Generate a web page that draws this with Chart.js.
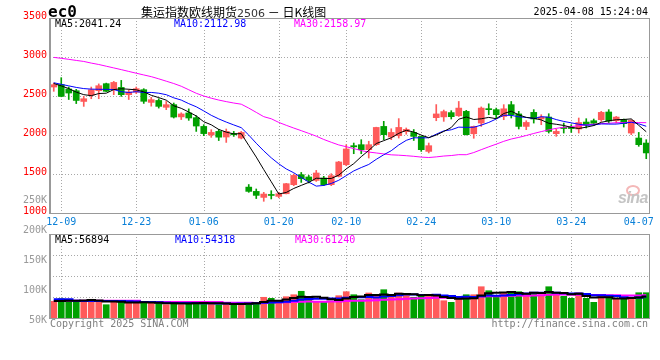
<!DOCTYPE html>
<html><head><meta charset="utf-8">
<script src="https://cdn.jsdelivr.net/npm/chart.js@4.4.1/dist/chart.umd.min.js"></script>
<style>
html,body{margin:0;padding:0;background:#fff;}
#wrap{position:relative;width:660px;height:360px;overflow:hidden;background:#fff;font-family:'DejaVu Sans Mono',monospace;}
canvas{position:absolute;left:0;}
#cPrice{top:0;}
#cVol{top:190px;}
.t{position:absolute;white-space:pre;font-family:'DejaVu Sans Mono',monospace;font-size:10px;}
.lg{line-height:9px;height:9px;background:#fff;padding:0 1px;}
</style></head><body>
<div id="wrap">
<canvas id="cPrice" width="660" height="232"></canvas>
<canvas id="cVol" width="660" height="170"></canvas>
<div class="t" style="left:48px;top:4px;font-size:16px;line-height:16px;font-weight:bold;color:#000;">ec0</div>
<div class="t" style="left:141px;top:6px;font-size:12px;line-height:12px;font-family:'Noto Sans CJK SC',sans-serif;color:#000;">集运指数欧线期货<span style="font-family:'DejaVu Sans',sans-serif;font-size:11px;color:#333;">2506</span> － 日K线图</div>
<div class="t" style="right:12px;top:7px;line-height:10px;color:#000;">2025-04-08 15:24:04</div>
<div class="t lg" id="pl5" style="left:54px;top:19px;color:#000;"></div>
<div class="t lg" id="pl10" style="left:173px;top:19px;color:#0000ff;"></div>
<div class="t lg" id="pl30" style="left:293px;top:19px;color:#ff00ff;"></div>
<div class="t lg" id="vl5" style="left:54px;top:235px;color:#000;"></div>
<div class="t lg" id="vl10" style="left:174px;top:235px;color:#0000ff;"></div>
<div class="t lg" id="vl30" style="left:294px;top:235px;color:#ff00ff;"></div>
<div style="position:absolute;left:626px;top:185px;width:10px;height:7px;border:2px solid #f4b8b8;border-radius:50%;"></div>
<div class="t" style="left:618px;top:190px;font-family:'Liberation Sans',sans-serif;font-size:16px;line-height:16px;font-weight:bold;font-style:italic;color:#c4c4c4;letter-spacing:-0.5px;">sina</div>
<div class="t" style="left:50px;top:319px;line-height:10px;color:#808080;">Copyright 2025 SINA.COM</div>
<div class="t" style="right:12px;top:319px;line-height:10px;color:#808080;">http://finance.sina.com.cn</div>
</div>
<script>
// ---------- data ----------
const dates = ['12-06','12-09','12-10','12-11','12-12','12-13','12-16','12-17','12-18','12-19','12-20','12-23','12-24','12-25','12-26','12-27','12-30','12-31',
'01-02','01-03','01-06','01-07','01-08','01-09','01-10','01-13','01-14','01-15','01-16','01-17','01-20','01-21','01-22','01-23','01-24','01-27',
'02-05','02-06','02-07','02-10','02-11','02-12','02-13','02-14','02-17','02-18','02-19','02-20','02-21','02-24','02-25','02-26','02-27','02-28',
'03-03','03-04','03-05','03-06','03-07','03-10','03-11','03-12','03-13','03-14','03-17','03-18','03-19','03-20','03-21','03-24','03-25','03-26','03-27','03-28','03-31',
'04-01','04-02','04-03','04-07','04-08'];
const opens = [2615,2645,2590,2568,2430,2510,2568,2658,2581,2610,2517,2550,2581,2418,2443,2355,2389,2232,2283,2222,
2110,2000,2046,1974,2017,1961,1332,1277,1200,1235,1213,1247,1363,1491,1462,1418,1448,1363,1470,1619,
1863,1876,1812,1876,2110,1974,1991,2043,2033,1982,1790,2222,2232,2287,2247,2303,2016,2153,2336,2325,
2238,2389,2270,2110,2290,2205,2230,2017,2097,2100,2077,2166,2183,2196,2295,2183,2196,2025,1961,1897];
const highs = [2666,2735,2615,2585,2495,2615,2655,2665,2687,2700,2581,2615,2594,2483,2465,2430,2410,2285,2335,2247,
2132,2068,2072,2077,2046,2046,1365,1308,1265,1286,1265,1380,1500,1520,1482,1546,1470,1504,1662,1876,
1897,1940,1920,2100,2175,2080,2210,2090,2070,1985,1897,2390,2320,2312,2430,2316,2115,2360,2400,2345,
2389,2430,2303,2183,2325,2260,2273,2077,2153,2132,2218,2209,2205,2303,2325,2238,2205,2196,2033,1940];
const lows = [2560,2490,2455,2403,2367,2465,2465,2555,2517,2495,2455,2530,2405,2370,2345,2325,2218,2198,2188,2046,
1991,1970,1929,1905,1982,1950,1265,1185,1150,1180,1195,1245,1350,1392,1385,1405,1350,1350,1462,1606,
1760,1760,1705,1865,1940,1940,1961,2010,1930,1790,1770,2183,2175,2205,2238,2000,1958,2110,2260,2218,
2196,2218,2077,2068,2153,2132,2025,1983,2025,2033,2025,2090,2123,2175,2153,2153,2102,2004,1855,1696];
const closes = [2645,2495,2538,2443,2465,2580,2632,2560,2674,2517,2550,2594,2432,2453,2367,2389,2230,2270,2218,2115,
2018,2033,1972,2046,2003,2033,1277,1226,1243,1225,1247,1376,1482,1440,1418,1513,1363,1478,1654,1821,
1848,1812,1876,2097,2004,2033,2097,2072,1982,1812,1863,2270,2300,2235,2345,2004,2110,2345,2325,2260,
2336,2260,2110,2161,2205,2230,2046,2046,2083,2083,2160,2130,2150,2290,2180,2230,2145,2187,1876,1770];
const volumes = [44300,51100,48500,44300,44300,49600,44300,35200,44300,41600,41600,41600,39800,39800,39800,35200,41600,35200,41600,41600,
37900,37900,35200,37900,35200,39800,39800,41600,54900,52200,39800,56400,61700,70800,48500,43200,43200,44300,59100,69700,
61700,48500,66300,59100,75000,54900,66300,63600,54900,61700,59100,57500,45800,41600,50400,61700,61700,82900,72300,54900,
66300,69700,69700,61700,67000,61700,82900,61700,57500,52200,67000,52200,41600,61700,52200,51100,50400,50400,67000,67000];
const ma5Head = [2660,2630,2595,2550];
const ma10Head = [2670,2650,2630,2610,2595,2588,2586,2585,2583];
const ma30Head = [2995,2983,2970,2956,2943,2922,2904,2882,2860,2838,2815,2792,2770,2748,2720,2690,2660,2625,2580,2535,2500,2472,2448,2428,2410,2395,2345,2290,2235];
const vma5Head = [45000,45000,45500,46000];
const vma10Head = [50000,50000,50000,46000,45000,45000,45000,45000,45000];
const vma30Head = [46000,46000,46000,46000,46000,46000,46000,46000,46000,46000,46000,46000,42500,42500,42500,42500,42500,42500,42500,42500,42500,42500,42500,40500,40500,40500,40500,39500,39500];
const priceLegend = ['MA5:2041.24','MA10:2112.98','MA30:2158.97'];
const volLegend = ['MA5:56894','MA10:54318','MA30:61240'];
const priceTicks = [1000,1500,2000,2500,3000,3500];
const dateTicks = ['12-09','12-23','01-06','01-20','02-10','02-24','03-10','03-24','04-07'];
const gridDates = ['12-09','12-23','01-06','01-20','02-10','02-24','03-10','03-24'];
const volTickValues = [250000,200000,150000,100000,50000];
const volTickLabels = ['250K','200K','150K','100K','50K'];

// ---------- rendering ----------
const FONT = "'DejaVu Sans Mono', monospace";
const RED = '#ff5a5a', GREEN = '#00a000', BLUE_T = '#0a80d8', GRID = '#a8a8a8', FRAME = '#999999';
Chart.defaults.font.family = FONT;
Chart.defaults.font.size = 10;

function movingAvg(vals, n, head) {
  return vals.map((v, i) => {
    if (i < n - 1) return head[i];
    let s = 0; for (let k = i - n + 1; k <= i; k++) s += vals[k];
    return s / n;
  });
}
const ma5 = movingAvg(closes, 5, ma5Head), ma10 = movingAvg(closes, 10, ma10Head), ma30 = movingAvg(closes, 30, ma30Head);
const vma5 = movingAvg(volumes, 5, vma5Head), vma10 = movingAvg(volumes, 10, vma10Head), vma30 = movingAvg(volumes, 30, vma30Head);
const colors = closes.map((c, i) => c >= opens[i] ? RED : GREEN);

document.getElementById('pl5').textContent = priceLegend[0];
document.getElementById('pl10').textContent = priceLegend[1];
document.getElementById('pl30').textContent = priceLegend[2];
document.getElementById('vl5').textContent = volLegend[0];
document.getElementById('vl10').textContent = volLegend[1];
document.getElementById('vl30').textContent = volLegend[2];

function dotted(ctx, x1, y1, x2, y2) {
  ctx.beginPath(); ctx.moveTo(x1, y1); ctx.lineTo(x2, y2); ctx.stroke();
}
function vGrid(chart) {
  const ctx = chart.ctx, a = chart.chartArea, xs = chart.scales.x;
  gridDates.forEach(d => {
    const x = Math.round(xs.getPixelForValue(dates.indexOf(d))) + 0.5;
    dotted(ctx, x, a.top, x, a.bottom);
  });
}
function frame(chart) {
  const ctx = chart.ctx, a = chart.chartArea;
  ctx.save(); ctx.setLineDash([]); ctx.strokeStyle = FRAME; ctx.lineWidth = 1;
  ctx.strokeRect(Math.round(a.left) + 0.5, Math.round(a.top) + 0.5, Math.round(a.right - a.left) - 1, Math.round(a.bottom - a.top));
  ctx.fillStyle = FRAME; ctx.fillRect(Math.round(a.left) - 1, Math.round(a.top), 1, Math.round(a.bottom - a.top) + 1);
  ctx.restore();
}
const priceDeco = {
  id: 'priceDeco',
  beforeDatasetsDraw(chart) {
    const ctx = chart.ctx, a = chart.chartArea, ys = chart.scales.y;
    ctx.save(); ctx.strokeStyle = GRID; ctx.lineWidth = 1; ctx.setLineDash([1, 2]);
    priceTicks.slice(1, -1).forEach(v => {
      const y = Math.round(ys.getPixelForValue(v)) + 0.5;
      dotted(ctx, a.left, y, a.right, y);
    });
    vGrid(chart);
    ctx.restore();
  },
  afterDraw(chart) { frame(chart); }
};
const volDeco = {
  id: 'volDeco',
  beforeDatasetsDraw(chart) {
    const ctx = chart.ctx, a = chart.chartArea, ys = chart.scales.y;
    ctx.save(); ctx.strokeStyle = GRID; ctx.lineWidth = 1; ctx.setLineDash([1, 2]);
    [1, 2, 3].forEach(k => {
      const y = Math.round(ys.getPixelForValue(ys.max * k / 4)) + 0.5;
      dotted(ctx, a.left, y, a.right, y);
    });
    vGrid(chart);
    ctx.restore();
  },
  afterDraw(chart) {
    frame(chart);
    const ctx = chart.ctx, yl = chart.scales.yl;
    ctx.save(); ctx.fillStyle = '#999999'; ctx.font = '10px ' + FONT; ctx.textAlign = 'right'; ctx.textBaseline = 'middle';
    volTickValues.forEach((v, i) => ctx.fillText(volTickLabels[i], 47, yl.getPixelForValue(v)));
    ctx.restore();
  }
};
const lineDs = (data, color, w, stepped) => ({type: 'line', data, borderColor: color, borderWidth: w, pointRadius: 0, tension: 0, stepped: stepped || false, order: 0});

new Chart(document.getElementById('cPrice'), {
  type: 'bar',
  data: {labels: dates, datasets: [
    lineDs(ma5, '#000000', 1), lineDs(ma10, '#0000ff', 1), lineDs(ma30, '#ff00ff', 1),
    {data: lows.map((l, i) => [l, highs[i]]), backgroundColor: colors, barThickness: 1, grouped: false, order: 2},
    {data: opens.map((o, i) => [o, closes[i]]), backgroundColor: colors, barThickness: 6, grouped: false, minBarLength: 1, order: 1}
  ]},
  options: {
    responsive: false, animation: false, devicePixelRatio: 1, events: [],
    layout: {padding: {top: 18, right: 10, left: 0, bottom: 0}},
    plugins: {legend: {display: false}, tooltip: {enabled: false}},
    scales: {
      x: {offset: true, grid: {display: false, drawTicks: false}, border: {display: false},
        ticks: {autoSkip: false, maxRotation: 0, minRotation: 0, color: BLUE_T, padding: 3, font: {family: FONT, size: 10},
          callback: (v, i) => dateTicks.includes(dates[i]) ? dates[i] : ''},
        afterFit: s => { s.height = 19; }},
      y: {min: 1000, max: 3500, grid: {display: false, drawTicks: false}, border: {display: false},
        afterBuildTicks: s => { s.ticks = priceTicks.map(v => ({value: v})); },
        ticks: {color: '#ff0000', padding: 3, labelOffset: -2, font: {family: FONT, size: 10}, callback: v => String(v)},
        afterFit: s => { s.width = 50; }}
    }
  },
  plugins: [priceDeco]
});

new Chart(document.getElementById('cVol'), {
  type: 'bar',
  data: {labels: dates, datasets: [
    lineDs(vma5, '#000000', 2, 'middle'), lineDs(vma10, '#0000ff', 2, 'middle'), lineDs(vma30, '#ff00ff', 2, 'middle'),
    {data: volumes, backgroundColor: colors, barThickness: 6, order: 1}
  ]},
  options: {
    responsive: false, animation: false, devicePixelRatio: 1, events: [],
    layout: {padding: {top: 44, right: 10, left: 50, bottom: 42}},
    plugins: {legend: {display: false}, tooltip: {enabled: false}},
    scales: {
      x: {display: false, offset: true},
      y: {display: false, min: 0, max: 222600},
      yl: {display: false, position: 'left', min: 54500, max: 194500}
    }
  },
  plugins: [volDeco]
});
</script>
</body></html>
